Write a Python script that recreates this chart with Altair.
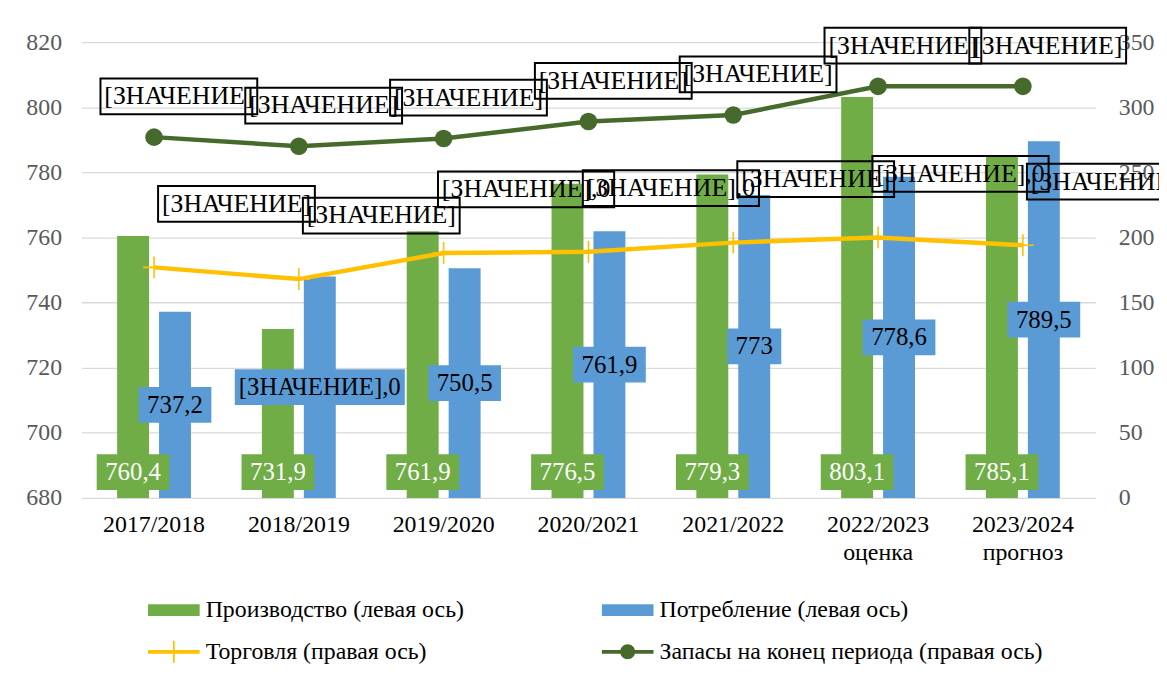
import altair as alt
import pandas as pd

# ---------------- data ----------------
categories = ["2017/2018", "2018/2019", "2019/2020", "2020/2021", "2021/2022",
              "2022/2023 оценка", "2023/2024 прогноз"]
production = [760.4, 731.9, 761.9, 776.5, 779.3, 803.1, 785.1]
consumption = [737.2, 748.0, 750.5, 761.9, 773.0, 778.6, 789.5]
trade = [177, 168, 188, 189, 196, 200, 194]
stocks = [277, 270, 276, 289, 294, 316, 316]

production_labels = ["760,4", "731,9", "761,9", "776,5", "779,3", "803,1", "785,1"]
consumption_labels = ["737,2", "[ЗНАЧЕНИЕ],0", "750,5", "761,9", "773", "778,6", "789,5"]
trade_labels = ["[ЗНАЧЕНИЕ]", "[ЗНАЧЕНИЕ]", "[ЗНАЧЕНИЕ],0", "[ЗНАЧЕНИЕ],0",
                "[ЗНАЧЕНИЕ]", "[ЗНАЧЕНИЕ],0", "[ЗНАЧЕНИЕ]"]
stock_labels = ["[ЗНАЧЕНИЕ]"] * 7

series_names = ["Производство (левая ось)", "Потребление (левая ось)",
                "Торговля (правая ось)", "Запасы на конец периода (правая ось)"]
left_ticks = [680, 700, 720, 740, 760, 780, 800, 820]
right_ticks = [0, 50, 100, 150, 200, 250, 300, 350]

# ---------------- styling ----------------
FONT = "Liberation Serif"
FS = 24          # axis tick labels / legend
FS_BAR = 25      # bar data labels
FS_LINE = 26     # line data labels
C_PROD = "#70AD47"
C_CONS = "#5B9BD5"
C_TRADE = "#FFC000"
C_STOCK = "#466A2C"
GRID = "#D9D9D9"
TICK_TXT = "#595959"

# approximate glyph advance widths (em) in Liberation Serif
EM = {"[": 0.333, "]": 0.333, ",": 0.25}
CYR_EM = 0.594

# label placement offsets (pixels)
PROD_DY = -26
TR_DX, TR_DY = 83, -64
ST_DX, ST_DY = 25, -41


def text_width(s, fs):
    return sum(EM.get(ch, CYR_EM if "А" <= ch <= "я" else 0.5) for ch in s) * fs


def box_shape(s, fs, ox=0.0, oy=0.0, h=36):
    """SVG path of a label box (w x h) shifted by (ox, oy) px; symbol size = w^2."""
    w = text_width(s, fs) + 17
    k = w / 2.0
    x0, x1 = (ox - w / 2) / k, (ox + w / 2) / k
    y0, y1 = (oy - h / 2) / k, (oy + h / 2) / k
    return f"M{x0:.4f},{y0:.4f}H{x1:.4f}V{y1:.4f}H{x0:.4f}Z", w * w


def with_boxes(df, fs, ox=0.0, oy=0.0):
    shapes = [box_shape(t, fs, ox, oy) for t in df["label"]]
    df = df.copy()
    df["bpath"] = [p for p, _ in shapes]
    df["bsize"] = [s for _, s in shapes]
    return df


prod_df = with_boxes(pd.DataFrame({"cat": categories, "series": series_names[0],
                                   "value": production, "label": production_labels}),
                     FS_BAR, 0, PROD_DY)
cons_df = with_boxes(pd.DataFrame({"cat": categories, "series": series_names[1],
                                   "value": consumption, "label": consumption_labels}),
                     FS_BAR)
trade_df = with_boxes(pd.DataFrame({"cat": categories, "value": trade, "label": trade_labels}),
                      FS_LINE, TR_DX, TR_DY)
stock_df = with_boxes(pd.DataFrame({"cat": categories, "value": stocks, "label": stock_labels}),
                      FS_LINE, ST_DX, ST_DY)
legend_df = pd.DataFrame({"series": series_names})

# ---------------- encodings ----------------
x_enc = alt.X("cat:N", sort=categories,
              scale=alt.Scale(domain=categories, paddingInner=0.49, paddingOuter=0.246),
              axis=alt.Axis(title=None, domain=False, ticks=False, labelAngle=0,
                            labelPadding=15, labelFont=FONT, labelFontSize=FS,
                            labelColor="black", labelLineHeight=28,
                            labelExpr="split(datum.label, ' ')"))
xo_enc = alt.XOffset("series:N",
                     scale=alt.Scale(domain=series_names[:2], paddingInner=0.238, paddingOuter=0))

left_scale = alt.Scale(domain=[680, 820], zero=False, nice=False)
right_scale = alt.Scale(domain=[0, 350], zero=True, nice=False)

left_axis = alt.Axis(title=None, values=left_ticks, grid=True, gridColor=GRID, gridWidth=1.3,
                     domain=False, ticks=False, labelPadding=20, labelFont=FONT,
                     labelFontSize=FS, labelColor=TICK_TXT)
right_axis = alt.Axis(title=None, orient="right", values=right_ticks, grid=False,
                      domain=False, ticks=False, labelPadding=23, labelFont=FONT,
                      labelFontSize=FS, labelColor=TICK_TXT)

color_scale = alt.Scale(domain=series_names, range=[C_PROD, C_CONS, C_TRADE, C_STOCK])

# legend symbols (path coords span -2..2 -> 52 px at size 676)
LEG_RECT = "M-2,-0.46H2V0.46H-2Z"
LEG_TRADE = "M-2,-0.15H2V0.15H-2Z M-0.07,-0.85H0.07V0.85H-0.07Z"
LEG_STOCK = ("M-2,-0.15H2V0.15H-2Z M-0.58,0A0.58,0.58 0 1,1 0.58,0"
             "A0.58,0.58 0 1,1 -0.58,0Z")
shape_scale = alt.Scale(domain=series_names, range=[LEG_RECT, LEG_RECT, LEG_TRADE, LEG_STOCK])

legend = alt.Legend(title=None, orient="none", legendX=80, legendY=559,
                    direction="horizontal", columns=2, columnPadding=138, rowPadding=17,
                    labelFont=FONT, labelFontSize=FS, labelColor="black", labelOffset=19,
                    labelLimit=700, symbolSize=676, symbolStrokeWidth=0, symbolOpacity=1,
                    padding=0)

# ---------------- left-axis group (bars) ----------------
y_left = alt.Y("value:Q", scale=left_scale, axis=left_axis)

bars_prod = alt.Chart(prod_df).mark_bar(clip=True, color=C_PROD).encode(
    x=x_enc, xOffset=xo_enc, y=y_left)
bars_cons = alt.Chart(cons_df).mark_bar(clip=True, color=C_CONS).encode(
    x=x_enc, xOffset=xo_enc, y=alt.Y("value:Q"))

prod_box = alt.Chart(prod_df).mark_point(filled=True, fill=C_PROD, strokeWidth=0,
                                         opacity=1).encode(
    x=x_enc, xOffset=xo_enc, y=alt.datum(680),
    shape=alt.Shape("bpath:N", scale=None),
    size=alt.Size("bsize:Q", scale=None),
)
prod_text = alt.Chart(prod_df).mark_text(font=FONT, fontSize=FS_BAR, color="white",
                                        baseline="middle", dy=PROD_DY).encode(
    x=x_enc, xOffset=xo_enc, y=alt.datum(680), text="label:N",
)

cons_box = alt.Chart(cons_df).transform_calculate(
    mid="(datum.value + 680) / 2"
).mark_point(filled=True, fill=C_CONS, strokeWidth=0, opacity=1).encode(
    x=x_enc, xOffset=xo_enc, y=alt.Y("mid:Q"),
    shape=alt.Shape("bpath:N", scale=None),
    size=alt.Size("bsize:Q", scale=None),
)
cons_text = alt.Chart(cons_df).transform_calculate(
    mid="(datum.value + 680) / 2"
).mark_text(font=FONT, fontSize=FS_BAR, color="black", baseline="middle").encode(
    x=x_enc, xOffset=xo_enc, y=alt.Y("mid:Q"), text="label:N",
)

left_group = alt.layer(bars_prod, bars_cons, prod_box, prod_text, cons_box, cons_text)

# ---------------- right-axis group (lines) ----------------
y_right = alt.Y("value:Q", scale=right_scale, axis=right_axis)

trade_line = alt.Chart(trade_df).mark_line(color=C_TRADE, strokeWidth=4.5).encode(
    x=x_enc, y=y_right)
trade_pts = alt.Chart(trade_df).mark_point(shape="M0,-1V1M-1,0H1", size=484, filled=False,
                                           color=C_TRADE, strokeWidth=1.6, opacity=1).encode(
    x=x_enc, y=alt.Y("value:Q"))
stock_line = alt.Chart(stock_df).mark_line(color=C_STOCK, strokeWidth=4.5).encode(
    x=x_enc, y=alt.Y("value:Q"))
stock_pts = alt.Chart(stock_df).mark_circle(size=314, color=C_STOCK, opacity=1).encode(
    x=x_enc, y=alt.Y("value:Q"))

trade_box = alt.Chart(trade_df).mark_point(filled=False, stroke="black", strokeWidth=2,
                                           opacity=1).encode(
    x=x_enc, y=alt.Y("value:Q"),
    shape=alt.Shape("bpath:N", scale=None),
    size=alt.Size("bsize:Q", scale=None))
trade_text = alt.Chart(trade_df).mark_text(font=FONT, fontSize=FS_LINE, color="black",
                                           baseline="middle", dx=TR_DX, dy=TR_DY).encode(
    x=x_enc, y=alt.Y("value:Q"), text="label:N")
stock_box = alt.Chart(stock_df).mark_point(filled=False, stroke="black", strokeWidth=2,
                                           opacity=1).encode(
    x=x_enc, y=alt.Y("value:Q"),
    shape=alt.Shape("bpath:N", scale=None),
    size=alt.Size("bsize:Q", scale=None))
stock_text = alt.Chart(stock_df).mark_text(font=FONT, fontSize=FS_LINE, color="black",
                                           baseline="middle", dx=ST_DX, dy=ST_DY).encode(
    x=x_enc, y=alt.Y("value:Q"), text="label:N")

right_group = alt.layer(trade_line, trade_pts, stock_line, stock_pts,
                        trade_box, trade_text, stock_box, stock_text)

# ---------------- legend (invisible carrier layer) ----------------
legend_layer = alt.Chart(legend_df).mark_point(filled=True, opacity=0).encode(
    color=alt.Color("series:N", scale=color_scale, legend=legend),
    shape=alt.Shape("series:N", scale=shape_scale, legend=legend),
)

chart = alt.layer(left_group, right_group, legend_layer).resolve_scale(
    y="independent", shape="independent", size="independent", color="independent"
).properties(
    width=1021, height=459,
    padding={"left": 74, "top": 32, "right": 64, "bottom": 170},
    autosize=alt.AutoSizeParams(type="none"),
    background="white",
).configure_view(stroke=None)

chart.save("out.html", embed_options={"renderer": "svg", "actions": False})
